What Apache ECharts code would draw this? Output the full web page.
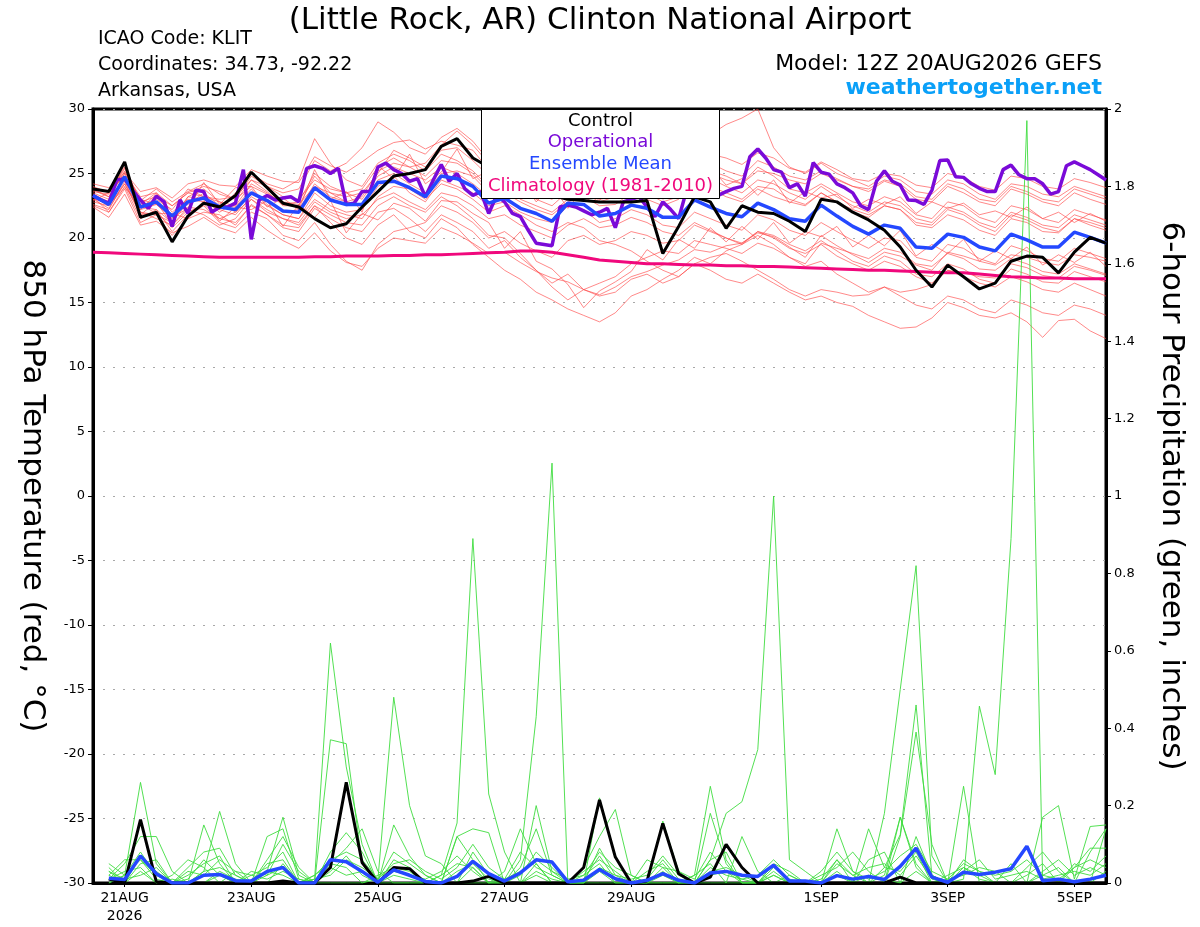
<!DOCTYPE html>
<html>
<head>
<meta charset="utf-8">
<script src="https://cdn.jsdelivr.net/npm/echarts@6/dist/echarts.min.js"></script>
<style>
html,body{margin:0;padding:0;background:#fff;}
#chart{width:1200px;height:927px;}
</style>
</head>
<body>
<div id="chart"></div>
<script>
// ---- time axis: 6-hourly steps from 12Z 20AUG2026 (65 points), operational at 3-hourly (129 points)
const tickIndex = [2, 10, 18, 26, 34, 46, 54, 62];
const tickLabels = ['21AUG\n2026', '23AUG', '25AUG', '27AUG', '29AUG', '1SEP', '3SEP', '5SEP'];

// ---- 850 hPa temperature (°C)
const control = [23.8,23.6,25.9,21.6,22.0,19.7,21.7,22.7,22.4,23.3,25.1,23.9,22.7,22.4,21.5,20.8,21.1,22.4,23.6,24.8,25.0,25.3,27.1,27.7,26.2,25.5,24.8,24.3,23.8,23.3,23.0,22.9,22.8,22.8,22.8,22.9,18.8,20.9,23.2,22.8,20.75,22.5,22.0,21.9,21.3,20.5,23.0,22.8,22.0,21.4,20.6,19.3,17.5,16.2,17.9,17.0,16.05,16.5,18.2,18.6,18.5,17.3,18.9,20.05,19.6];

const operational = [23.3,22.95,22.7,24.5,24.6,23.7,22.95,22.3,23.25,22.8,20.9,22.95,21.9,23.7,23.6,22.0,22.4,22.4,22.7,25.3,19.9,22.95,23.3,22.95,23.1,23.2,22.8,25.4,25.6,25.4,25.0,25.4,22.6,22.7,23.6,23.6,25.5,25.8,25.3,25.0,24.4,24.6,23.2,24.5,25.7,24.4,25.0,23.8,23.3,23.6,21.9,23.3,22.8,21.9,21.65,20.6,19.6,19.5,19.4,22.4,22.55,22.4,22.1,21.8,22.0,22.3,20.8,22.8,23.0,23.2,22.4,21.65,22.8,22.2,21.5,23.7,23.5,23.4,23.3,23.3,23.6,23.85,24.0,26.3,26.9,26.2,25.3,25.1,23.9,24.2,23.25,25.85,25.1,24.95,24.2,23.9,23.5,22.5,22.2,24.4,25.2,24.4,24.1,22.95,22.9,22.6,23.7,26.0,26.05,24.75,24.7,24.2,23.85,23.6,23.6,25.3,25.65,24.9,24.6,24.6,24.2,23.4,23.6,25.6,25.9,25.6,25.3,24.9,24.5];

const ensMean = [23.3,22.6,24.75,22.4,22.8,21.7,22.8,23.1,22.4,22.2,23.5,22.9,22.1,22.0,23.9,22.95,22.6,22.6,24.3,24.4,23.9,23.2,24.8,24.6,24.0,22.7,23.1,22.3,21.9,21.3,22.7,22.6,21.7,21.9,22.55,22.3,21.6,21.6,22.95,22.4,21.9,21.65,22.7,22.2,21.5,21.3,22.55,21.7,20.9,20.3,21.0,20.75,19.3,19.2,20.3,20.05,19.3,19.0,20.3,19.85,19.3,19.3,20.45,20.05,19.6];

const climatology = [18.9,18.85,18.8,18.75,18.7,18.65,18.6,18.55,18.5,18.5,18.5,18.5,18.5,18.5,18.55,18.55,18.6,18.6,18.6,18.65,18.65,18.7,18.7,18.75,18.8,18.85,18.9,19.0,19.0,18.9,18.7,18.5,18.3,18.2,18.1,18.0,18.0,17.95,17.9,17.9,17.85,17.85,17.8,17.8,17.75,17.7,17.65,17.6,17.55,17.5,17.5,17.45,17.4,17.35,17.3,17.3,17.2,17.1,17.0,16.95,16.9,16.9,16.85,16.85,16.85];

const tMem01 = [23.5,23.0,25.2,22.8,23.2,22.5,23.5,24.0,23.6,23.0,24.8,24.0,23.5,23.8,26.0,25.2,25.8,27.0,29.0,28.2,27.0,26.5,27.8,28.5,27.5,26.0,26.8,26.2,25.5,24.8,25.8,26.5,25.5,25.9,26.8,26.0,25.5,26.2,27.5,28.0,28.8,29.3,30.0,27.0,25.5,25.0,25.8,25.0,24.5,24.0,24.8,24.5,23.6,23.4,24.5,24.2,23.4,23.0,24.2,24.0,23.4,23.2,24.0,23.6,23.2];
const tMem02 = [23.0,22.3,24.2,21.8,22.0,20.8,22.0,22.6,21.5,21.2,22.5,21.8,20.8,20.5,22.3,21.5,20.8,20.5,22.0,22.3,21.5,20.5,21.8,21.2,20.5,19.2,19.8,18.5,17.5,16.5,17.2,16.0,15.5,15.8,16.8,17.2,16.5,17.0,18.0,17.5,16.8,16.5,17.2,16.5,15.8,15.2,15.5,15.0,14.7,14.0,13.5,13.0,13.1,13.8,15.0,14.6,14.0,13.8,14.2,13.5,12.3,13.6,13.7,12.8,12.2];
const tMem03 = [23.8,23.2,24.5,22.0,21.5,21.0,22.2,21.8,21.0,21.5,23.0,22.0,21.5,21.0,22.5,21.2,20.0,19.5,21.0,21.8,20.5,20.0,21.5,20.8,19.5,18.5,17.5,16.8,15.8,15.2,14.5,14.0,13.5,14.2,15.5,16.0,16.8,17.5,18.5,18.0,19.0,19.5,20.5,20.0,19.2,18.8,19.5,18.6,18.0,17.5,18.2,17.8,17.0,16.5,17.5,17.0,16.5,16.2,17.0,16.6,16.0,15.8,16.5,16.0,15.5];
const tMem04 = [22.8,22.5,25.0,23.0,22.6,21.5,23.2,23.8,22.8,22.5,24.2,23.5,22.6,22.8,25.0,24.0,23.5,23.8,25.5,26.2,25.5,24.8,26.0,25.8,25.0,23.8,24.5,23.8,23.0,22.5,23.6,24.0,23.0,23.2,24.0,23.5,22.8,23.2,24.5,24.0,23.5,23.0,24.0,23.8,23.0,22.6,23.5,22.8,22.0,21.6,22.5,22.2,21.0,20.8,21.8,21.4,20.6,20.2,21.5,21.2,20.5,20.4,21.5,21.0,20.6];
const tMem05 = [23.2,22.0,24.0,21.5,22.2,20.5,21.8,22.5,21.2,20.8,22.0,21.5,20.2,19.8,21.2,19.5,18.2,17.5,19.5,20.5,20.8,21.2,22.5,22.0,21.2,20.0,20.5,19.6,19.0,18.5,19.8,20.2,19.5,19.8,20.5,20.2,19.6,19.8,21.0,20.5,20.0,19.6,20.5,20.2,19.5,19.0,19.8,19.0,18.2,17.8,18.6,18.2,17.2,17.0,18.0,17.6,16.8,16.5,17.6,17.2,16.6,16.5,17.4,17.0,16.6];
const tMem06 = [23.6,23.4,25.5,22.6,23.5,22.0,23.0,22.8,22.2,23.5,25.0,24.2,23.8,24.5,27.7,25.8,24.5,24.0,25.8,26.5,26.0,25.2,26.5,26.0,25.2,24.0,24.8,24.2,23.5,23.0,24.2,24.5,23.6,23.8,24.6,24.0,23.4,23.8,25.0,24.6,24.0,23.5,24.5,24.2,23.5,23.0,24.0,23.2,22.5,22.0,22.8,22.5,21.5,21.2,22.4,22.0,21.2,20.8,22.0,21.6,21.0,20.8,21.8,21.4,21.0];
const tMem07 = [22.5,22.0,23.8,21.2,21.8,20.2,21.5,22.0,21.8,21.0,22.6,21.8,21.0,20.8,22.5,21.8,21.2,21.0,22.5,23.2,22.5,22.0,23.2,22.5,21.5,20.2,20.0,18.8,17.5,16.2,15.2,16.0,16.5,17.0,18.0,18.5,19.0,18.8,19.8,19.5,19.2,18.8,19.6,19.2,18.5,18.0,19.6,19.2,18.8,18.4,19.2,18.9,18.0,17.8,18.8,18.4,17.6,17.5,18.4,18.0,17.4,17.2,18.0,17.6,17.2];
const tMem08 = [23.9,23.6,24.8,22.5,23.0,22.2,23.8,23.2,22.8,22.0,23.5,23.0,22.0,22.2,24.2,23.2,22.8,22.5,24.5,25.0,24.2,23.5,25.0,25.2,24.8,23.5,24.0,23.0,22.5,22.0,23.0,23.5,22.8,23.2,24.2,23.8,23.5,24.2,25.5,25.0,24.5,24.2,25.2,25.0,24.5,24.2,25.0,24.5,24.0,23.8,24.5,24.2,23.2,23.0,24.2,23.8,23.0,22.8,24.0,23.6,23.0,22.8,23.8,23.4,23.0];
const tMem09 = [23.4,22.8,24.6,22.2,22.6,21.8,22.6,23.5,22.5,22.4,23.8,22.6,21.8,21.5,23.5,22.5,22.0,22.2,24.0,24.8,23.5,22.8,24.5,24.0,23.5,22.5,22.8,22.0,21.5,21.2,22.5,22.2,21.2,21.5,22.2,21.8,21.0,20.8,22.0,21.5,21.0,20.6,21.8,21.4,20.6,20.2,21.2,20.5,19.8,19.2,20.0,19.8,18.5,18.2,19.5,19.2,18.4,18.0,19.4,19.0,18.4,18.2,19.2,18.8,18.4];
const tMem10 = [23.0,22.8,25.8,22.4,22.2,21.2,23.2,23.0,22.0,22.8,24.5,23.6,22.5,22.5,24.8,23.5,22.8,23.2,25.2,25.8,25.5,25.8,27.2,28.3,27.2,25.8,25.0,24.2,23.8,23.2,24.0,24.8,24.0,24.2,25.0,24.5,23.8,24.5,25.8,25.2,24.8,24.2,25.5,24.8,23.8,23.5,24.2,23.5,22.8,22.5,23.2,22.8,21.8,21.5,22.8,22.5,21.6,21.2,22.5,22.2,21.5,21.2,22.2,21.8,21.4];
const tMem11 = [22.6,22.2,24.4,21.8,22.8,21.0,22.4,22.2,21.5,22.0,23.0,22.2,21.5,21.2,22.8,22.0,21.5,21.8,23.0,23.5,22.8,22.2,23.5,23.2,22.5,21.5,21.8,21.0,20.5,20.0,21.0,21.5,20.8,21.0,21.6,21.2,20.5,20.2,21.2,20.6,20.0,19.5,20.2,19.5,18.5,17.8,18.2,17.2,16.5,15.8,16.2,15.5,14.8,14.5,15.5,15.2,14.5,14.2,15.2,14.8,14.2,14.0,14.8,14.5,14.0];
const tMem12 = [24.0,23.5,25.0,23.2,23.5,22.5,23.5,23.2,23.0,23.2,24.5,24.0,23.2,23.0,24.5,23.8,23.5,23.0,24.8,25.5,25.0,24.5,25.5,25.0,24.2,23.2,23.5,22.8,22.2,21.8,22.8,23.2,22.5,22.6,23.5,23.0,22.5,23.0,24.2,23.8,23.2,22.8,23.8,23.2,22.8,22.5,23.5,22.8,22.2,21.8,22.5,22.2,21.2,21.0,22.2,21.8,21.0,20.5,21.8,21.4,20.8,20.5,21.5,21.2,20.8];
const tMem13 = [23.2,22.5,24.2,22.0,21.8,21.2,22.8,23.0,22.2,21.8,23.2,22.5,21.8,21.5,23.0,22.2,21.8,21.5,23.2,24.0,23.8,23.0,24.2,23.8,23.0,22.0,22.5,21.8,21.0,20.5,21.2,20.8,19.8,19.5,19.0,18.2,17.5,17.0,18.0,18.5,18.8,18.2,17.5,16.8,16.0,15.5,16.0,15.8,15.5,15.6,16.2,15.8,16.0,16.4,17.5,17.3,17.0,16.9,18.0,17.7,17.1,16.9,17.8,17.5,17.1];
const tMem14 = [23.7,23.2,25.4,22.9,23.8,22.8,23.6,24.2,23.4,23.0,24.0,23.4,22.8,22.6,24.0,23.5,23.2,23.5,25.0,26.8,26.2,25.5,26.8,27.0,26.0,24.8,25.5,24.8,24.2,23.8,24.8,25.2,24.5,24.8,25.5,25.0,24.2,24.8,26.2,25.8,25.2,24.8,26.0,25.5,24.8,24.5,25.2,24.6,24.0,23.6,24.4,24.0,23.0,22.8,24.0,23.5,22.8,22.5,23.8,23.4,22.8,22.5,23.5,23.0,22.6];
const tMem15 = [22.9,23.5,24.8,22.2,23.4,21.6,22.3,24.3,22.6,23.9,24.0,22.4,23.1,22.2,25.3,23.0,23.6,22.0,25.6,24.6,26.5,24.2,25.1,26.9,24.6,25.2,23.4,24.6,22.8,24.1,22.3,23.8,22.9,24.6,23.3,25.1,23.0,24.0,24.4,25.5,24.1,24.6,23.3,24.5,22.7,23.6,23.1,23.4,22.3,23.0,22.6,23.2,21.9,22.8,22.3,22.7,21.8,22.1,21.6,22.4,21.5,22.0,21.2,21.9,21.3];
const tMem16 = [23.3,22.6,23.9,22.6,21.9,21.9,21.5,22.9,21.3,22.4,22.2,22.9,20.9,22.6,21.6,22.9,20.4,21.9,21.4,22.7,22.3,21.3,22.9,22.8,21.9,21.2,19.2,20.5,18.2,17.6,16.4,14.6,15.9,16.6,17.4,19.1,18.3,19.9,19.2,20.8,19.7,20.9,19.9,21.2,19.6,20.5,20.1,20.9,19.3,20.2,19.4,20.6,18.6,19.5,18.8,19.9,18.2,19.0,18.4,19.3,17.9,18.7,18.1,18.9,17.8];
const tMem17 = [24.2,23.9,25.1,23.6,23.9,23.1,24.2,24.5,24.1,24.0,25.3,24.8,24.4,24.3,26.3,25.6,25.1,25.9,26.8,27.4,27.6,26.9,27.5,27.2,26.8,25.3,25.9,25.5,24.9,24.4,25.4,25.9,25.0,25.3,26.0,25.6,24.8,25.3,26.6,26.5,26.2,25.7,26.6,26.2,25.4,25.1,25.9,25.3,24.6,24.4,25.0,24.8,24.1,23.9,25.0,24.7,24.0,23.7,24.8,24.6,24.0,23.8,24.6,24.3,23.9];
const tMem18 = [22.4,21.6,23.4,21.0,21.3,20.4,20.9,21.6,20.8,20.4,21.6,20.6,19.8,19.2,20.4,19.0,18.1,17.8,19.2,20.0,19.8,19.6,20.8,20.3,19.6,18.8,18.9,18.1,17.4,16.9,16.6,16.0,15.6,16.2,17.0,17.4,17.9,18.3,19.1,18.9,19.4,19.6,20.4,20.1,19.3,18.5,20.2,19.4,18.7,18.1,18.9,18.6,17.9,17.5,18.9,18.6,18.2,17.9,18.7,18.5,18.1,17.9,18.7,18.5,18.2];

// ---- 6-hour precipitation (inches); first step has no accumulation
const precipControl = [null,0.01,0,0.164,0.003,0,0,0,0,0,0,0,0.005,0,0,0.04,0.26,0.053,0,0.04,0.037,0,0,0,0.005,0.017,0,0,0,0,0,0.04,0.215,0.067,0,0.005,0.154,0.024,0,0.015,0.1,0.04,0,0,0,0,0,0,0,0,0,0.015,0,0,0,0,0,0,0,0,0,0,0,0,0];
const precipMean = [null,0.012,0.009,0.07,0.024,0,0,0.02,0.022,0.006,0.005,0.03,0.04,0,0,0.06,0.055,0.03,0.002,0.034,0.02,0.004,0,0.017,0.056,0.024,0.005,0.026,0.06,0.054,0.003,0.007,0.035,0.011,0,0.007,0.024,0.007,0,0.026,0.03,0.02,0.017,0.046,0.005,0.005,0,0.019,0.01,0.017,0.009,0.043,0.09,0.015,0.002,0.028,0.022,0.028,0.037,0.095,0.006,0.01,0.003,0.01,0.02];

const pMem01 = [null,0,0.02,0.26,0.05,0,0,0,0.02,0,0,0,0.05,0,0.01,0.62,0.3,0.1,0,0,0,0,0,0,0.04,0,0,0.06,0.43,1.085,0,0,0,0,0,0,0.03,0,0,0,0,0,0,0.02,0,0,0,0,0,0,0,0.12,0.39,0.1,0,0,0,0,0,0,0,0,0,0,0];
const pMem02 = [null,0.01,0.05,0.12,0.12,0.03,0,0.15,0.05,0,0,0.03,0.17,0.02,0,0.05,0.09,0.14,0.03,0,0,0,0.02,0.155,0.89,0.23,0.08,0,0.02,0,0,0,0.09,0.02,0,0,0,0,0.02,0.25,0.06,0,0,0,0,0,0,0.14,0.03,0,0.18,0.5,0.82,0.07,0,0,0,0,0,0,0.17,0.2,0.01,0.146,0.15];
const pMem03 = [null,0.04,0,0.07,0.03,0,0,0.03,0.185,0.05,0,0.12,0.14,0.01,0,0,0,0,0.01,0.48,0.2,0.07,0.05,0,0,0,0,0,0.05,0,0,0.04,0.12,0.19,0.02,0,0,0,0,0.06,0.18,0.21,0.345,1.0,0.06,0.03,0,0,0,0,0.02,0.17,0.04,0,0,0.25,0,0,0,0,0,0,0,0,0.14];
const pMem04 = [null,0.02,0.06,0.06,0.02,0,0.04,0.08,0.09,0.02,0,0.06,0.12,0.04,0,0.37,0.36,0.05,0,0.15,0.07,0.02,0,0.12,0.14,0.13,0,0,0.2,0.03,0,0,0.22,0.07,0,0,0.16,0.03,0,0.18,0.05,0,0,0,0,0,0,0.06,0,0.14,0.04,0.125,0.46,0.02,0,0.01,0.457,0.28,0.89,1.97,0,0,0.04,0.09,0.09];
const pMem05 = [null,0.01,0.03,0.04,0,0.02,0.06,0.04,0,0.03,0.02,0.04,0.08,0,0.02,0.05,0.04,0,0.02,0.04,0.03,0,0.02,0.05,0.04,0,0.03,0.14,0.05,0,0,0.03,0.06,0.03,0,0.06,0.04,0,0.02,0.05,0,0.12,0.03,0,0.02,0,0.02,0.04,0.08,0.03,0,0.17,0.05,0,0.02,0.04,0.02,0,0.05,0,0.03,0.06,0.02,0.04,0.02];
const pMem06 = [null,0.03,0,0.05,0.06,0,0.02,0.05,0.07,0,0.03,0.02,0.1,0.03,0,0.08,0.13,0.08,0,0.06,0.04,0,0,0.12,0.06,0,0,0.04,0.14,0.02,0,0.02,0.05,0,0,0.03,0.05,0,0,0.06,0.08,0,0,0.05,0.03,0,0,0.02,0,0.06,0.08,0,0.12,0.02,0,0.06,0.03,0,0,0.04,0.08,0.03,0,0.08,0.14];
const pMem07 = [null,0,0.02,0.08,0.02,0,0,0.03,0.04,0.02,0,0.05,0.06,0,0.01,0.02,0.06,0.04,0.01,0.08,0.05,0.02,0,0,0.08,0.02,0,0.02,0.08,0.04,0,0,0.04,0.02,0.01,0.02,0.07,0.02,0,0.03,0.04,0.02,0,0.03,0,0,0,0.05,0.02,0,0.04,0.03,0.08,0,0.01,0.02,0.04,0.03,0,0.02,0.05,0,0.05,0.03,0.07];
const pMem08 = [null,0.02,0,0.03,0,0.01,0,0,0.03,0.01,0,0.02,0.04,0,0,0.04,0.02,0.03,0,0.02,0.01,0,0,0.03,0.05,0.01,0,0,0.03,0.01,0,0,0.03,0,0,0,0.02,0,0,0.02,0.03,0,0,0.02,0,0,0,0.03,0,0.02,0.01,0,0.03,0,0,0.04,0.01,0,0,0,0.02,0.04,0,0,0.03];
const pMem09 = [null,0.03,0.01,0.02,0.04,0,0.01,0.06,0.02,0,0.02,0.01,0.03,0.01,0,0.03,0.07,0.02,0,0.03,0.02,0.01,0.03,0.07,0.03,0,0.01,0.08,0.04,0.02,0,0.01,0.07,0.01,0,0.01,0.06,0.01,0,0.04,0.02,0.01,0,0.04,0.01,0,0.01,0.06,0.02,0.04,0.05,0.02,0.07,0.01,0,0.03,0.06,0.01,0.02,0.03,0.01,0.02,0.03,0.02,0.05];
const pMem10 = [null,0.05,0.02,0.06,0.01,0,0.03,0.02,0.06,0.03,0,0.03,0.02,0,0.02,0.06,0.08,0.06,0.01,0.05,0.06,0.03,0.01,0.04,0.1,0.04,0.01,0.03,0.06,0.03,0.01,0.02,0.08,0.04,0.02,0,0.04,0.03,0.01,0.08,0.03,0.01,0.02,0.06,0.02,0,0.03,0.08,0.03,0.01,0.03,0.07,0.1,0.03,0.01,0.05,0.03,0.02,0.03,0.06,0.02,0.01,0.04,0.06,0.04];

const tempMembers = [tMem01,tMem02,tMem03,tMem04,tMem05,tMem06,tMem07,tMem08,tMem09,tMem10,tMem11,tMem12,tMem13,tMem14,tMem15,tMem16,tMem17,tMem18];
const precipMembers = [pMem01,pMem02,pMem03,pMem04,pMem05,pMem06,pMem07,pMem08,pMem09,pMem10];

const stepCats = control.map((_, i) => String(i));
const opCats = operational.map((_, i) => String(i));

const FONT = '"DejaVu Sans", "Liberation Sans", Arial, sans-serif';
const showTick = (idx) => tickIndex.indexOf(idx) >= 0;

const series = [];
tempMembers.forEach((m, k) => series.push({
  name: 'member' + k, type: 'line', data: m, xAxisIndex: 0, yAxisIndex: 0,
  symbol: 'none', silent: true, z: 1,
  lineStyle: { color: 'rgba(255,70,70,0.8)', width: 0.8 }
}));
precipMembers.forEach((m, k) => series.push({
  name: 'pmember' + k, type: 'line', data: m, xAxisIndex: 0, yAxisIndex: 1,
  symbol: 'none', silent: true, z: 1, connectNulls: false,
  lineStyle: { color: '#3fdc3f', width: 0.9 }
}));
series.push({ name: 'Climatology (1981-2010)', type: 'line', data: climatology, xAxisIndex: 0, yAxisIndex: 0,
  symbol: 'none', z: 3, lineStyle: { color: '#f0087c', width: 3 } });
series.push({ name: 'Operational', type: 'line', data: operational, xAxisIndex: 1, yAxisIndex: 0,
  symbol: 'none', z: 4, lineStyle: { color: '#7a0ad8', width: 3.5 } });
series.push({ name: 'Ensemble Mean', type: 'line', data: ensMean, xAxisIndex: 0, yAxisIndex: 0,
  symbol: 'none', z: 5, lineStyle: { color: '#2448ff', width: 3.5 } });
series.push({ name: 'Control', type: 'line', data: control, xAxisIndex: 0, yAxisIndex: 0,
  symbol: 'none', z: 6, lineStyle: { color: '#000', width: 3 } });
series.push({ name: 'Control precip', type: 'line', data: precipControl, xAxisIndex: 0, yAxisIndex: 1,
  symbol: 'none', z: 6, lineStyle: { color: '#000', width: 3 } });
series.push({ name: 'Mean precip', type: 'line', data: precipMean, xAxisIndex: 0, yAxisIndex: 1,
  symbol: 'none', z: 7, lineStyle: { color: '#2448ff', width: 3.5 } });

const chart = echarts.init(document.getElementById('chart'), null, { renderer: 'canvas' });
chart.setOption({
  animation: false,
  backgroundColor: '#fff',
  textStyle: { fontFamily: FONT },
  title: {
    text: '(Little Rock, AR) Clinton National Airport',
    left: 'center', top: 0,
    textStyle: { fontFamily: FONT, fontSize: 31, fontWeight: 'normal', color: '#000' }
  },
  grid: {
    left: 93, right: 94, top: 109, bottom: 44,
    show: true, borderColor: '#000', borderWidth: 3, backgroundColor: '#fff'
  },
  xAxis: [
    {
      type: 'category', data: stepCats, boundaryGap: false, position: 'bottom',
      axisLine: { show: true, onZero: false, lineStyle: { color: '#000', width: 3 } },
      axisTick: { show: true, interval: (i) => showTick(i), length: 4, lineStyle: { color: '#000', width: 1 } },
      axisLabel: {
        interval: (i) => showTick(i), margin: 6,
        formatter: (v) => { const k = tickIndex.indexOf(Number(v)); return k >= 0 ? tickLabels[k] : ''; },
        fontFamily: FONT, fontSize: 14, color: '#000', lineHeight: 18
      },
      splitLine: { show: false }
    },
    {
      type: 'category', data: opCats, boundaryGap: false, show: false,
      axisLine: { onZero: false }
    }
  ],
  yAxis: [
    {
      type: 'value', min: -30, max: 30, interval: 5, position: 'left',
      name: '850 hPa Temperature (red, °C)', nameLocation: 'middle', nameRotate: -90, nameGap: 45,
      nameTextStyle: { fontFamily: FONT, fontSize: 31, color: '#000' },
      axisLine: { show: true, lineStyle: { color: '#000', width: 3 } },
      axisTick: { show: true, length: 5, lineStyle: { color: '#000', width: 1 } },
      axisLabel: { fontFamily: FONT, fontSize: 13, color: '#000', margin: 8 },
      splitLine: { show: true, lineStyle: { color: '#a8a8a8', width: 1.2, type: [2, 8] } }
    },
    {
      type: 'value', min: 0, max: 2, interval: 0.2, position: 'right',
      name: '6-hour Precipitation (green, inches)', nameLocation: 'middle', nameRotate: -90, nameGap: 50,
      nameTextStyle: { fontFamily: FONT, fontSize: 31, color: '#000' },
      axisLine: { show: true, lineStyle: { color: '#000', width: 3 } },
      axisTick: { show: true, length: 5, lineStyle: { color: '#000', width: 1 } },
      axisLabel: { fontFamily: FONT, fontSize: 13, color: '#000', margin: 8,
        formatter: (v) => String(Math.round(v * 10) / 10) },
      splitLine: { show: false }
    }
  ],
  graphic: [
    { type: 'text', left: 98, top: 30, z: 100,
      style: { text: 'ICAO Code: KLIT', font: '19px ' + FONT, fill: '#000' } },
    { type: 'text', left: 98, top: 56, z: 100,
      style: { text: 'Coordinates: 34.73, -92.22', font: '19px ' + FONT, fill: '#000' } },
    { type: 'text', left: 98, top: 82, z: 100,
      style: { text: 'Arkansas, USA', font: '19px ' + FONT, fill: '#000' } },
    { type: 'text', right: 98, top: 53, z: 100,
      style: { text: 'Model: 12Z 20AUG2026 GEFS', font: '22px ' + FONT, fill: '#000' } },
    { type: 'text', right: 98, top: 77, z: 100,
      style: { text: 'weathertogether.net', font: 'bold 22px ' + FONT, fill: '#0aa0f8' } },
    { type: 'group', left: 481, top: 109, z: 100, children: [
      { type: 'rect', shape: { x: 0, y: 0, width: 238, height: 89 },
        style: { fill: '#fff', stroke: '#000', lineWidth: 1 }, z: 100 },
      { type: 'text', x: 119, y: 12, z: 101,
        style: { text: 'Control', font: '18px ' + FONT, fill: '#000', textAlign: 'center', textVerticalAlign: 'middle' } },
      { type: 'text', x: 119, y: 33, z: 101,
        style: { text: 'Operational', font: '18px ' + FONT, fill: '#7a0ad8', textAlign: 'center', textVerticalAlign: 'middle' } },
      { type: 'text', x: 119, y: 55, z: 101,
        style: { text: 'Ensemble Mean', font: '18px ' + FONT, fill: '#2448ff', textAlign: 'center', textVerticalAlign: 'middle' } },
      { type: 'text', x: 119, y: 77, z: 101,
        style: { text: 'Climatology (1981-2010)', font: '18px ' + FONT, fill: '#f0087c', textAlign: 'center', textVerticalAlign: 'middle' } }
    ]}
  ],
  series: series
});
</script>
</body>
</html>
